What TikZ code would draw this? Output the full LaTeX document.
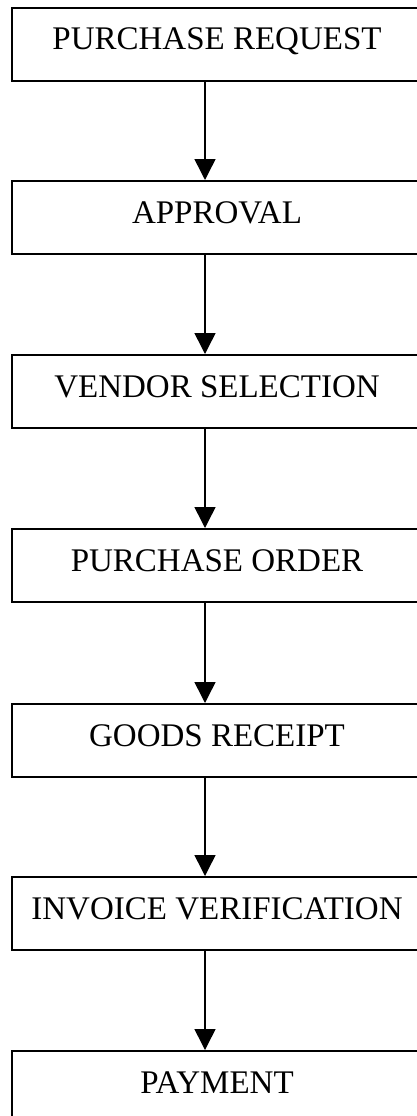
\documentclass[tikz,border=0pt]{standalone}
\usepackage{fontspec}
\setmainfont{Liberation Serif}
\usetikzlibrary{arrows.meta}
\begin{document}
\begin{tikzpicture}[x=1pt,y=1pt,
  stepbox/.style={draw, line width=2pt, minimum width=410pt, anchor=north,
    inner ysep=20pt, text height=22pt, text depth=11pt,
    font=\fontsize{33}{36}\selectfont},
  flow/.style={line width=1.5pt, -{Triangle[width=21pt,length=21pt]}}]
\useasboundingbox (0,0) rectangle (417,-1116);
\clip (0,0) rectangle (417,-1116);
\coordinate (ax) at (205,0);
\node[stepbox] (b1) at (217,-7)    {PURCHASE REQUEST};
\node[stepbox] (b2) at (217,-180)  {APPROVAL};
\node[stepbox] (b3) at (217,-354)  {VENDOR SELECTION};
\node[stepbox] (b4) at (217,-528)  {PURCHASE ORDER};
\node[stepbox] (b5) at (217,-703)  {GOODS RECEIPT};
\node[stepbox] (b6) at (217,-876)  {INVOICE VERIFICATION};
\node[stepbox] (b7) at (217,-1050) {PAYMENT};
\draw[flow] (b1.south -| ax) -- (b2.north -| ax);
\draw[flow] (b2.south -| ax) -- (b3.north -| ax);
\draw[flow] (b3.south -| ax) -- (b4.north -| ax);
\draw[flow] (b4.south -| ax) -- (b5.north -| ax);
\draw[flow] (b5.south -| ax) -- (b6.north -| ax);
\draw[flow] (b6.south -| ax) -- (b7.north -| ax);
\end{tikzpicture}
\end{document}
